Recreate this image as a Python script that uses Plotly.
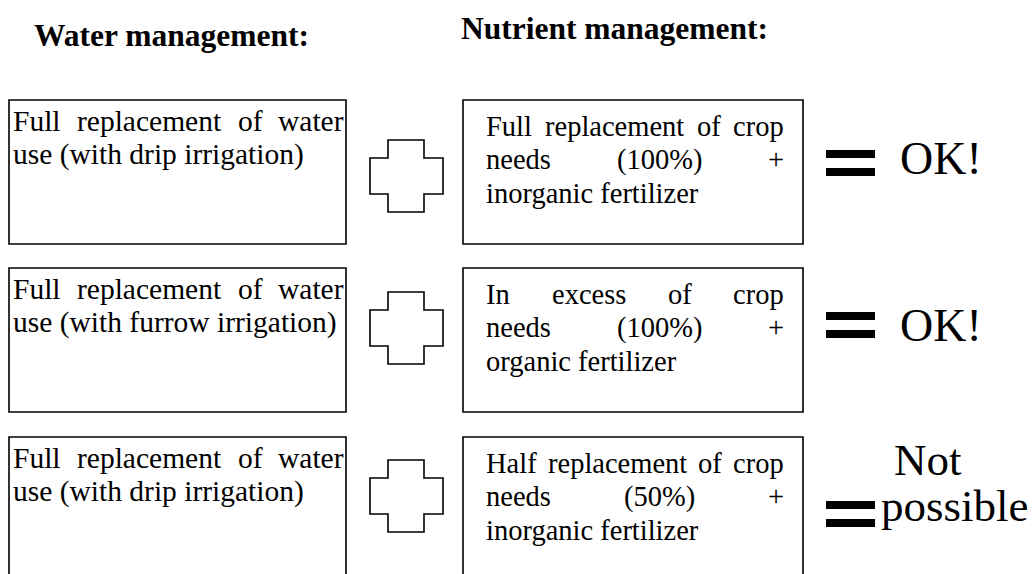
import plotly.graph_objects as go

# ---------------- content ----------------
headers = ["Water management:", "Nutrient management:"]
water_options = [
    ["Full replacement of water", "use (with drip irrigation)"],
    ["Full replacement of water", "use (with furrow irrigation)"],
    ["Full replacement of water", "use (with drip irrigation)"],
]
nutrient_options = [
    ["Full replacement of crop", "needs (100%) +", "inorganic fertilizer"],
    ["In excess of crop", "needs (100%) +", "organic fertilizer"],
    ["Half replacement of crop", "needs (50%) +", "inorganic fertilizer"],
]
outcomes = [["OK!"], ["OK!"], ["Not", "possible"]]

# ---------------- layout constants ----------------
W, H = 1036, 574
PAGE_OFF = 8          # page body margin: shift the axes so positions match the window pixels
FONT = "Liberation Serif, Times New Roman, serif"
BODY_L = 29.5
BODY_R = 28.5
HEAD = 31.5
out_size = [[46], [46], [45, 45]]

row_top = [100, 268, 437]
box_h = 144
left_box = (9, 346)
right_box = (463, 803)
left_text = (11, 342)
right_text = (484, 782)
left_line0 = 21     # offset of first line centre from box top
right_line0 = 26
line_gap = 33.5
plus_top = [140, 292, 460]
eq_mid = [163, 325, 514]
out_mid = [[158], [325], [460, 506]]
out_x = [[898], [898], [892, 879]]

# Times / Liberation Serif advance widths (per 1000 em)
CW = {' ': 250, '!': 333, '%': 833, '(': 333, ')': 333, '+': 564, '0': 500, '1': 500, '5': 500,
      'A': 722, 'F': 556, 'H': 722, 'I': 333, 'K': 722, 'N': 722, 'O': 722,
      'a': 444, 'b': 500, 'c': 444, 'd': 500, 'e': 444, 'f': 333, 'g': 500, 'h': 500, 'i': 278,
      'l': 278, 'm': 778, 'n': 500, 'o': 500, 'p': 500, 'r': 333, 's': 389, 't': 278, 'u': 500,
      'w': 722, 'x': 500, 'z': 444, 'v': 500, 'y': 500}


def tw(s, size):
    return sum(CW.get(c, 500) for c in s) * size / 1000.0


fig = go.Figure()
fig.add_trace(go.Scatter(x=[0, W], y=[0, H], mode="markers", marker=dict(opacity=0),
                         hoverinfo="skip", showlegend=False))

shapes = []
annots = []


def text(x, y, s, size, anchor="left", bold=False):
    annots.append(dict(x=x, y=y, xref="x", yref="y", text=("<b>%s</b>" % s) if bold else s,
                       showarrow=False, xanchor=anchor, yanchor="middle",
                       font=dict(family=FONT, size=size, color="black")))


def paragraph(lines, x0, x1, y0, size):
    for i, line in enumerate(lines):
        y = y0 + i * line_gap
        words = line.split(" ")
        if i == len(lines) - 1 or len(words) == 1:
            text(x0, y, line, size)
            continue
        widths = [tw(w, size) for w in words]
        gap = (x1 - x0 - sum(widths)) / (len(words) - 1)
        x = x0
        for w, wd in zip(words, widths):
            text(x, y, w, size)
            x += wd + gap


line_style = dict(color="black", width=1.6)

for r in range(3):
    t = row_top[r]
    for (bx0, bx1) in (left_box, right_box):
        shapes.append(dict(type="rect", xref="x", yref="y", x0=bx0, x1=bx1, y0=t, y1=t + box_h,
                           line=line_style, fillcolor="rgba(0,0,0,0)"))
    paragraph(water_options[r], left_text[0], left_text[1], t + left_line0, BODY_L)
    paragraph(nutrient_options[r], right_text[0], right_text[1], t + right_line0, BODY_R)

    # plus sign
    p = plus_top[r]
    xa, xb, xc, xd = 370, 388, 424, 443
    ya, yb, yc, yd = p, p + 18, p + 54, p + 72
    path = (f"M{xb},{ya} L{xc},{ya} L{xc},{yb} L{xd},{yb} L{xd},{yc} L{xc},{yc} L{xc},{yd} "
            f"L{xb},{yd} L{xb},{yc} L{xa},{yc} L{xa},{yb} L{xb},{yb} Z")
    shapes.append(dict(type="path", xref="x", yref="y", path=path, line=line_style,
                       fillcolor="rgba(0,0,0,0)"))

    # equals sign
    m = eq_mid[r]
    for y0 in (m - 13, m + 5):
        shapes.append(dict(type="rect", xref="x", yref="y", x0=826, x1=875, y0=y0, y1=y0 + 8,
                           line=dict(width=0), fillcolor="black"))

    for s, ym, xo, fs in zip(outcomes[r], out_mid[r], out_x[r], out_size[r]):
        text(xo, ym, s, fs)

text(32, 35, headers[0], HEAD, bold=True)
text(459, 28, headers[1], HEAD, bold=True)

fig.update_layout(
    width=W, height=H, margin=dict(l=0, r=0, t=0, b=0),
    paper_bgcolor="white", plot_bgcolor="white",
    xaxis=dict(range=[PAGE_OFF, W + PAGE_OFF], visible=False, fixedrange=True),
    yaxis=dict(range=[H + PAGE_OFF, PAGE_OFF], visible=False, fixedrange=True),
    shapes=shapes, annotations=annots, showlegend=False,
)
fig.write_html("out.html")
